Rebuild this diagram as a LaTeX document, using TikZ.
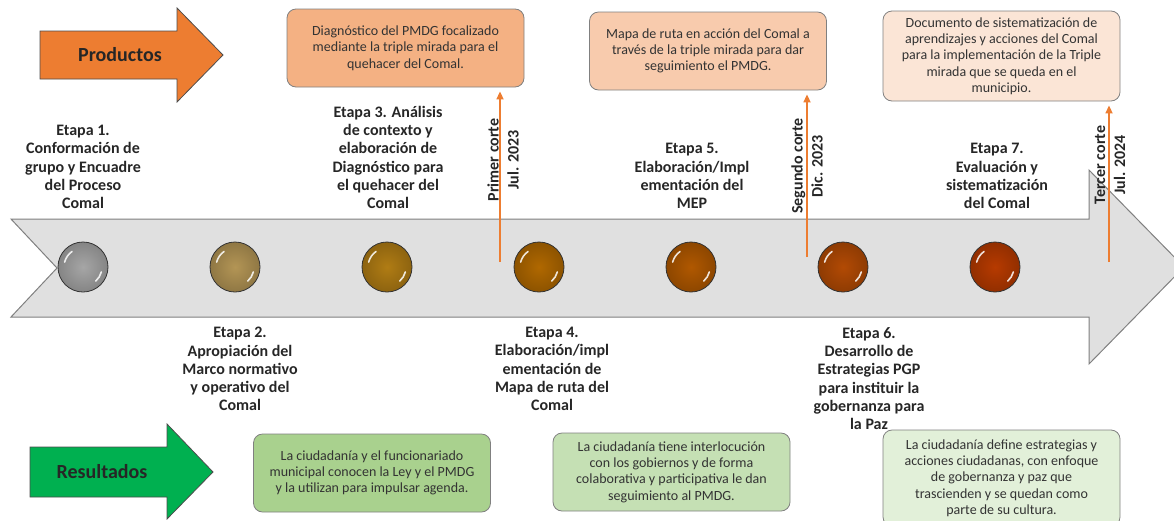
\documentclass[tikz,border=0pt]{standalone}
\usepackage{fontspec}
\setmainfont{Carlito}
\usetikzlibrary{arrows.meta}
\definecolor{naranja}{HTML}{ED7D31}
\definecolor{verde}{HTML}{00B050}
\definecolor{prodA}{HTML}{F4B183}
\definecolor{prodB}{HTML}{F8CBAD}
\definecolor{prodC}{HTML}{FBE5D6}
\definecolor{resA}{HTML}{A9D18E}
\definecolor{resB}{HTML}{C5E0B4}
\definecolor{resC}{HTML}{E2F0D9}
\definecolor{bolaA}{HTML}{A6A6A6}
\definecolor{bolaB}{HTML}{B39555}
\definecolor{bolaC}{HTML}{B07C14}
\definecolor{bolaD}{HTML}{B06800}
\definecolor{bolaE}{HTML}{B05800}
\definecolor{bolaF}{HTML}{B24A04}
\definecolor{bolaG}{HTML}{B63A00}
\begin{document}
\begin{tikzpicture}[x=1pt, y=-1pt,
  etapa/.style={font=\bfseries\fontsize{16}{18.3}\selectfont, align=center, inner sep=0pt, text=black!85},
  caja/.style={draw=black!50, line width=0.8pt, rounded corners=9pt, minimum width=237pt,
               align=center, font=\fontsize{14}{16.3}\selectfont, text=black!80},
  corte/.style={naranja, line width=1.6pt, shorten >=4pt, -{Triangle[width=7pt,length=8pt]}},
  cortetxt/.style={rotate=90, align=center, inner sep=0pt, font=\bfseries\fontsize{16}{20}\selectfont, text=black!85},
  bola/.style={circle, draw=black!80, line width=0.8pt, minimum size=50pt, inner sep=0pt},
  brillo/.style={white, line width=1.6pt, line cap=round, opacity=.85}]
\useasboundingbox (0,0) rectangle (1174,520);

% gran flecha de la linea de tiempo
\draw[draw=black!50, line width=1pt, fill=black!12]
  (11,219) -- (1089,219) -- (1089,170) -- (1184,267) -- (1089,364)
  -- (1089,317) -- (11,317) -- (57,268) -- cycle;

% flechas Productos / Resultados
\draw[draw=black!70, line width=0.8pt, fill=naranja]
  (40,31) -- (177,31) -- (177,8) -- (223,55) -- (177,102) -- (177,79) -- (40,79) -- cycle;
\node[font=\bfseries\fontsize{20}{24}\selectfont, text=black!85] (productos) at (120,55) {Productos};
\draw[draw=black!70, line width=0.8pt, fill=verde]
  (30,447) -- (167,447) -- (167,424) -- (213,472) -- (167,519) -- (167,497) -- (30,497) -- cycle;
\node[font=\bfseries\fontsize{20}{24}\selectfont, text=black!85] (resultados) at (102,472) {Resultados};

% productos
\node[caja, fill=prodA, minimum height=78pt] (prod1) at (405.5,48)
  {Diagnóstico del PMDG focalizado\\mediante la triple mirada para el\\quehacer del Comal.};
\node[caja, fill=prodB, minimum height=78pt] (prod2) at (708,51)
  {Mapa de ruta en acción del Comal a\\través de la triple mirada para dar\\seguimiento el PMDG.};
\node[caja, fill=prodC, minimum height=90pt] (prod3) at (1001.5,56)
  {Documento de sistematización de\\aprendizajes y acciones del Comal\\para la implementación de la Triple\\mirada que se queda en el\\municipio.};

% resultados
\node[caja, fill=resA, minimum height=78pt] (res1) at (372,473)
  {La ciudadanía y el funcionariado\\municipal conocen la Ley y el PMDG\\y la utilizan para impulsar agenda.};
\node[caja, fill=resB, minimum height=78pt] (res2) at (671.5,472)
  {La ciudadanía tiene interlocución\\con los gobiernos y de forma\\colaborativa y participativa le dan\\seguimiento al PMDG.};
\node[caja, fill=resC, minimum height=96pt] (res3) at (1001.5,478)
  {La ciudadanía define estrategias y\\acciones ciudadanas, con enfoque\\de gobernanza y paz que\\trascienden y se quedan como\\parte de su cultura.};

% bolas de las etapas
\foreach \i/\x/\col in {1/83/bolaA, 2/235/bolaB, 3/387/bolaC, 4/539/bolaD, 5/691/bolaE, 6/843/bolaF, 7/995/bolaG} {
  \node[bola, inner color=\col, outer color=\col!80!black] (c\i) at (\x,267) {};
  \draw[brillo] (c\i.center) ++(195:19) arc[start angle=195, end angle=235, radius=19];
  \draw[brillo] (c\i.center) ++(15:19) arc[start angle=15, end angle=48, radius=19];
}

% etapas arriba
\node[etapa, anchor=south] (e1) at (83,209) {Etapa 1.\\Conformación de\\grupo y Encuadre\\del Proceso\\Comal};
\node[etapa, anchor=south] (e3) at (388,209) {Etapa 3. Análisis\\de contexto y\\elaboración de\\Diagnóstico para\\el quehacer del\\Comal};
\node[etapa, anchor=south] (e5) at (692,209) {Etapa 5.\\Elaboración/Impl\\ementación del\\MEP};
\node[etapa, anchor=south] (e7) at (997,209) {Etapa 7.\\Evaluación y\\sistematización\\del Comal};
% etapas abajo
\node[etapa, anchor=north] (e2) at (240,327) {Etapa 2.\\Apropiación del\\Marco normativo\\y operativo del\\Comal};
\node[etapa, anchor=north] (e4) at (552,327) {Etapa 4.\\Elaboración/impl\\ementación de\\Mapa de ruta del\\Comal};
\node[etapa, anchor=north] (e6) at (869,327) {Etapa 6.\\Desarrollo de\\Estrategias PGP\\para instituir la\\gobernanza para\\la Paz};

% cortes
\coordinate (cut1) at (500,262);
\coordinate (cut2) at (807,257);
\coordinate (cut3) at (1109,262);
\draw[corte] (cut1) -- (cut1 |- prod1.south);
\draw[corte] (cut2) -- (cut2 |- prod2.south);
\draw[corte] (cut3) -- (cut3 |- prod3.south);
\node[cortetxt] (corte1) at (503,160) {Primer corte\\Jul. 2023};
\node[cortetxt] (corte2) at (807,166) {Segundo corte\\Dic. 2023};
\node[cortetxt] (corte3) at (1110,165) {Tercer corte\\Jul. 2024};
\end{tikzpicture}
\end{document}
